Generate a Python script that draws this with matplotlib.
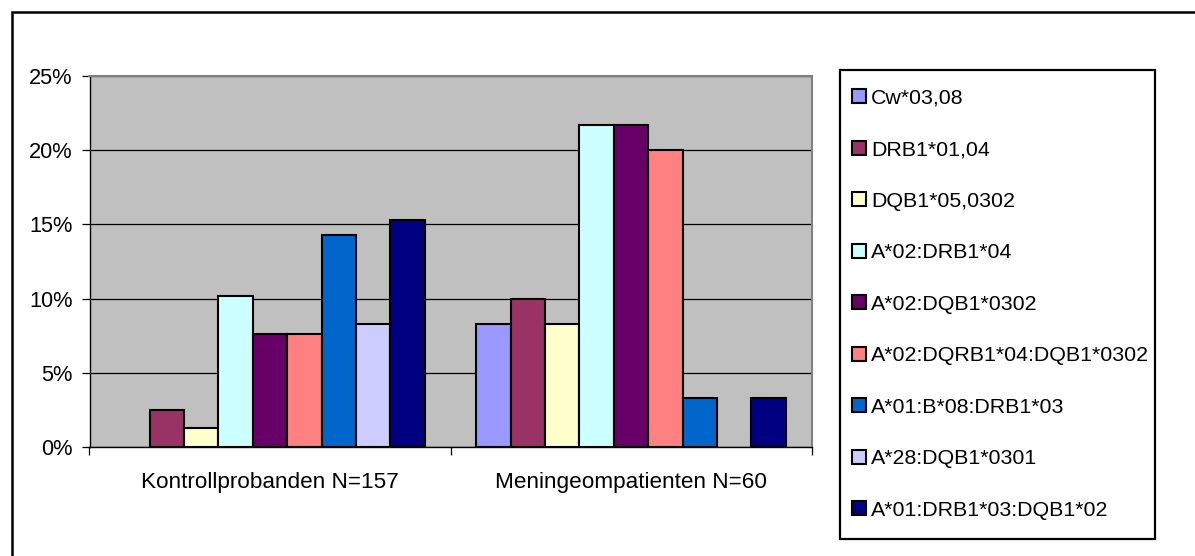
import matplotlib
matplotlib.use("Agg")
import matplotlib.pyplot as plt
from matplotlib.patches import Patch, Rectangle
import numpy as np

plt.rcParams['font.family'] = ['Liberation Sans', 'DejaVu Sans']

groups = ["Kontrollprobanden N=157", "Meningeompatienten N=60"]
haplotypes = [
    "Cw*03,08",
    "DRB1*01,04",
    "DQB1*05,0302",
    "A*02:DRB1*04",
    "A*02:DQB1*0302",
    "A*02:DQRB1*04:DQB1*0302",
    "A*01:B*08:DRB1*03",
    "A*28:DQB1*0301",
    "A*01:DRB1*03:DQB1*02",
]
# percentages per haplotype: [Kontrollprobanden, Meningeompatienten]
cw_03_08 = [0.0, 8.3]
drb1_01_04 = [2.5, 10.0]
dqb1_05_0302 = [1.3, 8.3]
a02_drb1_04 = [10.2, 21.7]
a02_dqb1_0302 = [7.6, 21.7]
a02_drb1_04_dqb1_0302 = [7.6, 20.0]
a01_b08_drb1_03 = [14.3, 3.3]
a28_dqb1_0301 = [8.3, 0.0]
a01_drb1_03_dqb1_02 = [15.3, 3.3]
series = [cw_03_08, drb1_01_04, dqb1_05_0302, a02_drb1_04, a02_dqb1_0302,
          a02_drb1_04_dqb1_0302, a01_b08_drb1_03, a28_dqb1_0301, a01_drb1_03_dqb1_02]
colors = ["#9999FF", "#993366", "#FFFFCC", "#CCFFFF", "#660066",
          "#FF8080", "#0066CC", "#CCCCFF", "#000080"]
yticks = [0, 5, 10, 15, 20, 25]
ytick_labels = ["0%", "5%", "10%", "15%", "20%", "25%"]

W, H = 1195, 556
fig = plt.figure(figsize=(W / 100, H / 100), dpi=100)
fig.patch.set_facecolor("white")

# outer chart border (runs off the right and bottom edges)
fig.patches.append(Rectangle((12 / W, -0.05), 1.1, 1 - 12 / H + 0.05,
                             transform=fig.transFigure, fill=False,
                             edgecolor="black", linewidth=1.8, clip_on=False))

ax = fig.add_axes([89.5 / W, 109 / H, 722 / W, 371 / H])
ax.set_facecolor("#C0C0C0")

n = len(series)
slot = 1.0 / (n + 1.5)
x = np.arange(len(groups))
for j, (vals, c) in enumerate(zip(series, colors)):
    lw = [1.5 if v > 0 else 0 for v in vals]
    ax.bar(x + (j - (n - 1) / 2) * slot, vals, width=slot, color=c,
           edgecolor="black", linewidth=lw, zorder=3)

ax.set_xlim(-0.5, 1.5)
ax.set_ylim(0, 25)
ax.set_yticks(yticks)
ax.set_yticklabels(ytick_labels)
ax.yaxis.grid(True, color="black", linewidth=0.9, zorder=0)
ax.set_axisbelow(True)

ax.set_xticks(x)
ax.set_xticklabels(groups)
ax.set_xticks([-0.5, 0.5, 1.5], minor=True)
ax.tick_params(axis="x", which="major", length=0, pad=18, labelsize=16.2)
ax.tick_params(axis="x", which="minor", length=6, width=0.9, color="black")
ax.tick_params(axis="y", length=6, width=0.9, pad=6, labelsize=15.7)

for side in ("left", "bottom"):
    ax.spines[side].set_color("black")
    ax.spines[side].set_linewidth(1.0)
for side in ("top", "right"):
    ax.spines[side].set_color("#808080")
    ax.spines[side].set_linewidth(1.5)

# legend box
fig.patches.append(Rectangle((840 / W, 1 - 539 / H), 315 / W, 469 / H,
                             transform=fig.transFigure, facecolor="white",
                             edgecolor="black", linewidth=1.6, zorder=1))

handles = [Patch(facecolor=c, edgecolor="black", linewidth=1.5) for c in colors]
leg = fig.legend(handles, haplotypes, loc="upper left",
                 bbox_to_anchor=(840 / W, 1 - 77 / H),
                 fontsize=15.4, frameon=False,
                 borderpad=0.55, labelspacing=1.52, handlelength=0.65,
                 handleheight=0.65, handletextpad=0.25, borderaxespad=0)
leg.set_zorder(2)

fig.savefig("out.png", dpi=100)
